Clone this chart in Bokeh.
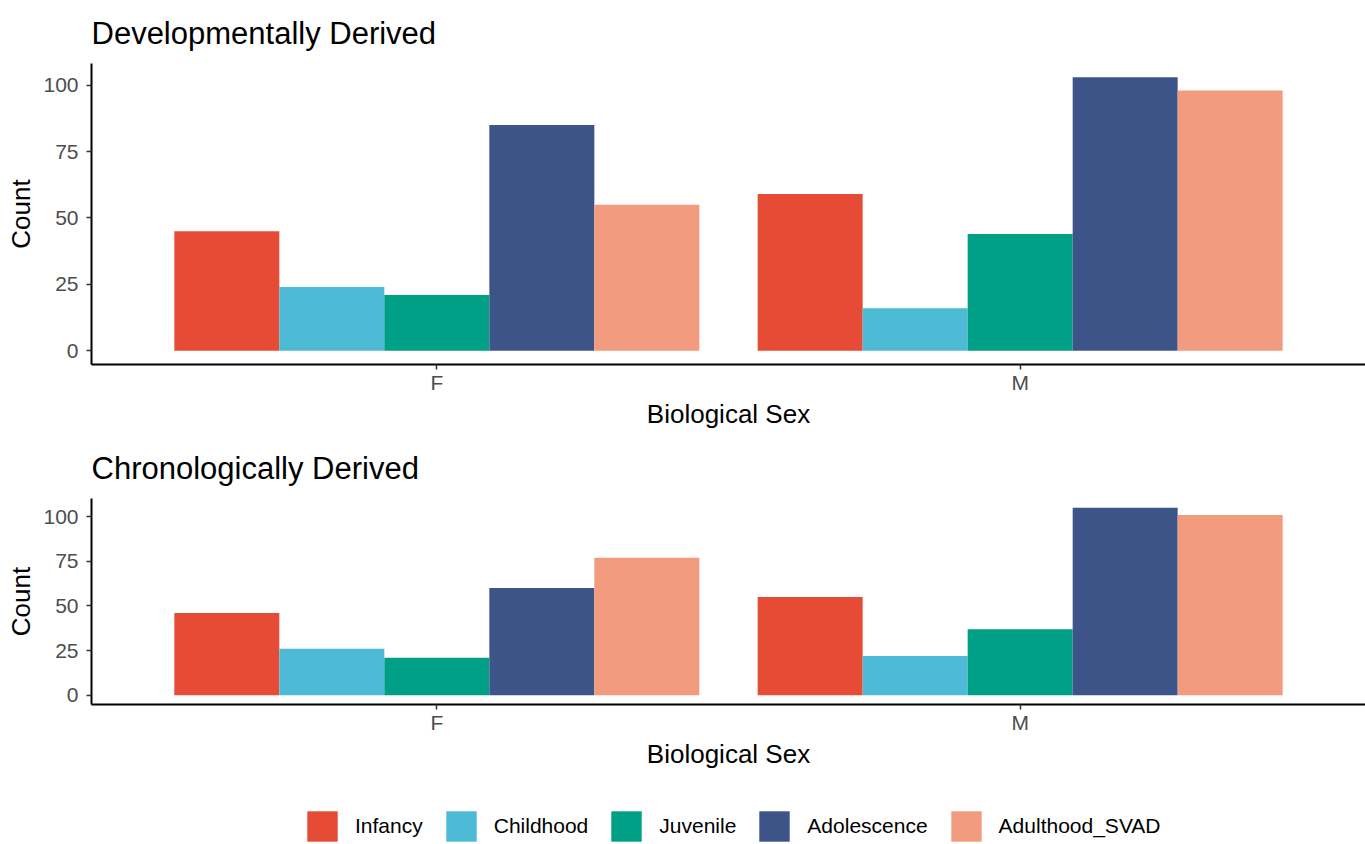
from bokeh.plotting import figure
from bokeh.models import FactorRange, Range1d, FixedTicker, Legend, LegendItem, ColumnDataSource
from bokeh.transform import dodge
from bokeh.layouts import column
from bokeh.embed import file_html
from bokeh.resources import INLINE

# ---------------- data ----------------
sexes = ["F", "M"]
stages = ["Infancy", "Childhood", "Juvenile", "Adolescence", "Adulthood_SVAD"]
stage_colors = ["#E64B35", "#4DBBD5", "#00A087", "#3C5488", "#F39B7F"]

dev_infancy = [45, 59]
dev_childhood = [24, 16]
dev_juvenile = [21, 44]
dev_adolescence = [85, 103]
dev_adulthood = [55, 98]

chr_infancy = [46, 55]
chr_childhood = [26, 22]
chr_juvenile = [21, 37]
chr_adolescence = [60, 105]
chr_adulthood = [77, 101]

y_ticks = [0, 25, 50, 75, 100]

titles = ["Developmentally Derived", "Chronologically Derived"]
x_label = "Biological Sex"
y_label = "Count"

FONT = "Liberation Sans"
FRAME_W = 1274


def add_bars(p, src):
    n = len(stages)
    bw = 0.9 / n
    rs = []
    for i, (st, col) in enumerate(zip(stages, stage_colors)):
        off = -0.45 + bw * (i + 0.5)
        rs.append(p.vbar(x=dodge("sex", off, range=p.x_range), top=st, bottom=0, width=bw,
                         source=src, fill_color=col, line_color=None))
    return rs


def make_panel(title, series, frame_h, top, bottom):
    ymax = max(max(s) for s in series)
    p = figure(
        x_range=FactorRange(factors=sexes, range_padding=0.092, range_padding_units="absolute"),
        y_range=Range1d(-0.05 * ymax, 1.05 * ymax),
        frame_width=FRAME_W, frame_height=frame_h,
        min_border_left=91, min_border_right=0, min_border_top=top, min_border_bottom=bottom,
        output_backend="svg", toolbar_location=None, title=title,
    )
    src = ColumnDataSource(dict(sex=sexes, **{st: vals for st, vals in zip(stages, series)}))
    add_bars(p, src)

    p.title.text_font = FONT
    p.title.text_font_size = "31px"
    p.title.text_font_style = "normal"
    p.title.text_color = "black"
    p.title.align = "left"
    p.title.standoff = 26

    for ax in (p.xaxis[0], p.yaxis[0]):
        ax.axis_line_color = "black"
        ax.axis_line_width = 2
        ax.major_tick_line_color = "#333333"
        ax.major_tick_line_width = 1.5
        ax.major_tick_out = 5
        ax.major_tick_in = 0
        ax.minor_tick_out = 0
        ax.minor_tick_in = 0
        ax.major_label_text_font = FONT
        ax.major_label_text_font_size = "21px"
        ax.major_label_text_color = "#4D4D4D"
        ax.axis_label_text_font = FONT
        ax.axis_label_text_font_size = "26px"
        ax.axis_label_text_font_style = "normal"
        ax.axis_label_text_color = "black"
    p.xaxis.axis_label = x_label
    p.yaxis.axis_label = y_label
    p.yaxis.ticker = FixedTicker(ticks=y_ticks)
    p.yaxis.major_label_standoff = 8
    p.yaxis.axis_label_standoff = 4
    p.xaxis.major_label_standoff = 1
    p.xaxis.axis_label_standoff = 2
    p.xgrid.visible = False
    p.ygrid.visible = False
    p.outline_line_color = None
    p.background_fill_color = "white"
    p.border_fill_color = "white"
    return p, src


p1, src1 = make_panel(titles[0], [dev_infancy, dev_childhood, dev_juvenile, dev_adolescence, dev_adulthood],
                      301, 62, 70)
p2, src2 = make_panel(titles[1], [chr_infancy, chr_childhood, chr_juvenile, chr_adolescence, chr_adulthood],
                      206, 64, 70)

# shared legend strip: same bars, kept far outside this strip's visible value range,
# so that only the legend keys show
p3 = figure(frame_width=1365, frame_height=71, min_border=0,
            x_range=FactorRange(factors=sexes), y_range=Range1d(1000, 1001),
            x_axis_location=None, y_axis_location=None,
            output_backend="svg", toolbar_location=None)
p3.outline_line_color = None
p3.xgrid.visible = False
p3.ygrid.visible = False
legend_renderers = add_bars(p3, src2)
items = [LegendItem(label=st, renderers=[r]) for st, r in zip(stages, legend_renderers)]
lg = Legend(items=items, orientation="horizontal", location=(303, 0),
            glyph_width=38, glyph_height=38, label_standoff=14, spacing=19,
            padding=0, margin=0, border_line_color=None, background_fill_alpha=0,
            label_text_font=FONT, label_text_font_size="21px", label_text_color="black")
p3.add_layout(lg, "center")

layout = column(p1, p2, p3, spacing=0)
open("out.html", "w").write(file_html(layout, INLINE))
